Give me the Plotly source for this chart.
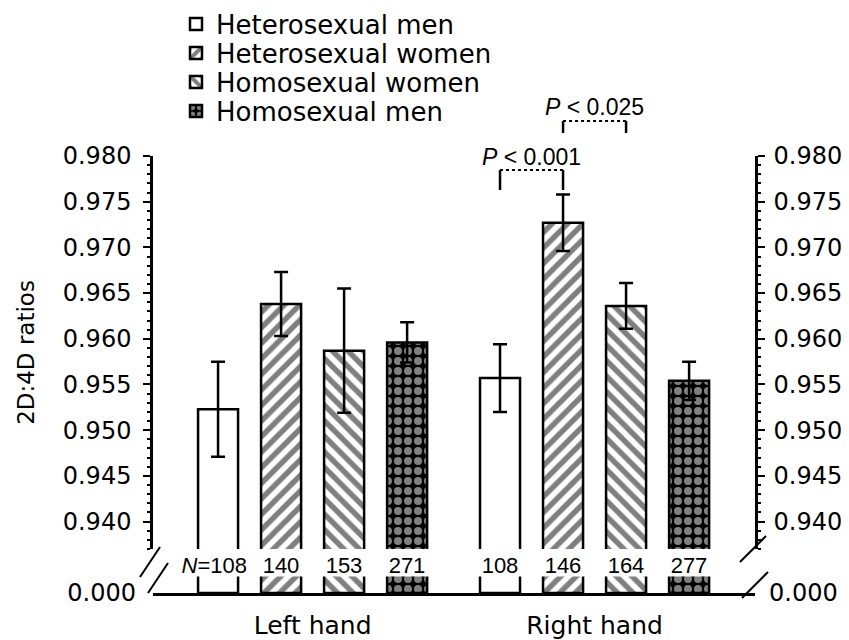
import plotly.graph_objects as go

# ---------------- data ----------------
hands = ["Left hand", "Right hand"]
groups = ["Heterosexual men", "Heterosexual women", "Homosexual women", "Homosexual men"]

het_men_mean = [0.9523, 0.9557]
het_men_err = [0.0052, 0.0037]
het_women_mean = [0.9638, 0.9727]
het_women_err = [0.0035, 0.0031]
homo_women_mean = [0.9587, 0.9636]
homo_women_err = [0.0068, 0.0025]
homo_men_mean = [0.9596, 0.9554]
homo_men_err = [0.0022, 0.0021]

n_left = [108, 140, 153, 271]
n_right = [108, 146, 164, 277]

y_ticks = [0.940, 0.945, 0.950, 0.955, 0.960, 0.965, 0.970, 0.975, 0.980]
p_labels = ["<i>P</i> < 0.001", "<i>P</i> < 0.025"]

means = [het_men_mean, het_women_mean, homo_women_mean, homo_men_mean]
errs = [het_men_err, het_women_err, homo_women_err, homo_men_err]

# ---------------- styles ----------------
FONT = "DejaVu Sans"
BARGAP = 0.106
SLOT = (1 - BARGAP) / 4

styles = [
    dict(color="white", pattern=dict(shape="")),
    dict(color="white", pattern=dict(shape="/", fgcolor="black", bgcolor="white", size=11, solidity=0.5)),
    dict(color="white", pattern=dict(shape="\\", fgcolor="black", bgcolor="white", size=11, solidity=0.5)),
    dict(color="black", pattern=dict(shape=".", fgcolor="white", bgcolor="black", size=10, solidity=0.5)),
]
legend_ids = ["legend", "legend2", "legend3", "legend4"]
legend_rows = [24, 53, 82, 111]  # px centre of each legend row

fig = go.Figure()

# main bars
for g, m, e, st, lg in zip(groups, means, errs, styles, legend_ids):
    fig.add_trace(go.Bar(
        x=hands, y=m, name=g, yaxis="y", legend=lg,
        marker=dict(color=st["color"], pattern=st["pattern"],
                    line=dict(color="black", width=2.5)),
        error_y=dict(type="data", array=e, visible=True, color="black",
                     thickness=2.5, width=7),
        hoverinfo="skip",
    ))

# stub bars below the axis break
for g, m, st in zip(groups, means, styles):
    fig.add_trace(go.Bar(
        x=hands, y=m, name=g, yaxis="y2", showlegend=False,
        marker=dict(color=st["color"], pattern=st["pattern"],
                    line=dict(color="black", width=2.5)),
        hoverinfo="skip",
    ))

# invisible traces so the right-side axes are drawn
fig.add_trace(go.Scatter(x=hands, y=het_women_mean, yaxis="y3", mode="markers",
                         marker=dict(opacity=0), showlegend=False, hoverinfo="skip"))
fig.add_trace(go.Scatter(x=hands, y=[0, 0], yaxis="y4", mode="markers",
                         marker=dict(opacity=0), showlegend=False, hoverinfo="skip"))

# ---------------- layout ----------------
L, R, T, B = 153, 94, 156, 47
W, H = 849, 640
PH = H - T - B  # plot height in px
PW = W - L - R


def py(p):
    return (H - B - p) / PH


def px(p):
    return (p - L) / PW


main_lo = 0.93700
main_dom = [py(549), 1]
stub_dom = [0, py(564)]

tickfont = dict(family=FONT, size=24, color="black")

legends = {}
for lg, row in zip(legend_ids, legend_rows):
    legends[lg] = dict(x=px(176), y=1 - row / H, xref="paper", yref="container",
                       xanchor="left", yanchor="middle",
                       font=dict(family=FONT, size=26, color="black"),
                       bgcolor="rgba(0,0,0,0)", itemwidth=30)

fig.update_layout(
    width=W, height=H,
    margin=dict(l=L, r=R, t=T, b=B, autoexpand=False),
    paper_bgcolor="white", plot_bgcolor="white",
    font=dict(family=FONT, color="black"),
    barmode="group", bargap=BARGAP, bargroupgap=0.365,
    showlegend=True,
    **legends,
    xaxis=dict(type="category", range=[-0.566, 1.569], anchor="y2",
               showline=True, linecolor="black", linewidth=2.5,
               ticks="", tickfont=dict(family=FONT, size=25, color="black"),
               ticklabelstandoff=8, automargin=False,
               showgrid=False, zeroline=False, fixedrange=True),
    yaxis=dict(domain=main_dom, range=[main_lo, 0.980], anchor="x",
               tickvals=y_ticks, tickformat=".3f", ticks="outside", ticklen=7,
               tickwidth=2, tickcolor="black", tickfont=tickfont,
               ticklabelstandoff=7, automargin=False,
               minor=dict(dtick=0.001, ticks="outside", ticklen=3, tickcolor="black", tickwidth=1.5),
               showline=True, linecolor="black", linewidth=2.5,
               showgrid=False, zeroline=False,
               title=dict(text="2D:4D ratios", font=dict(family=FONT, size=23), standoff=22)),
    yaxis2=dict(domain=stub_dom, range=[0, 0.9], anchor="x",
                tickvals=[0], ticktext=["0.000"], ticks="", tickfont=tickfont,
                ticklabelstandoff=16, automargin=False,
                showline=False, showgrid=False, zeroline=False),
    yaxis3=dict(overlaying="y", side="right", anchor="x", range=[main_lo, 0.980],
                tickvals=y_ticks, tickformat=".3f", ticks="outside", ticklen=7,
                tickwidth=2, tickcolor="black", tickfont=tickfont,
                ticklabelstandoff=4, automargin=False,
                minor=dict(dtick=0.001, ticks="outside", ticklen=3, tickcolor="black", tickwidth=1.5),
                showline=True, linecolor="black", linewidth=2.5,
                showgrid=False, zeroline=False),
    yaxis4=dict(overlaying="y2", side="right", anchor="x", range=[0, 0.9],
                tickvals=[0], ticktext=["0.000"], ticks="", tickfont=tickfont,
                ticklabelstandoff=13, automargin=False,
                showline=False, showgrid=False, zeroline=False),
)


def bar_x(group_idx, bar_idx):
    return group_idx + (bar_idx - 1.5) * SLOT


# N labels (white boxes interrupt the bars at the axis break)
nfont = dict(family="Liberation Sans", size=22, color="black")
for gi, ns in enumerate([n_left, n_right]):
    for bi, n in enumerate(ns):
        first = gi == 0 and bi == 0
        fig.add_annotation(x=bar_x(gi, bi), y=py(565), xref="x", yref="paper",
                           text=(f"<i>N</i>={n}" if first else str(n)),
                           showarrow=False, font=nfont,
                           width=(76 if first else 46), height=22,
                           align=("right" if first else "center"),
                           bgcolor="white", borderpad=0,
                           xanchor=("right" if first else "center"),
                           xshift=(30 if first else 0), yanchor="middle")

# significance brackets
brackets = [
    (bar_x(1, 0), bar_x(1, 1), 170, 190, 157, p_labels[0]),
    (bar_x(1, 1), bar_x(1, 2), 121, 133, 107, p_labels[1]),
]
for x0, x1, ytop, yleg, ytxt, lab in brackets:
    fig.add_shape(type="line", xref="x", yref="paper", x0=x0, x1=x1, y0=py(ytop), y1=py(ytop),
                  line=dict(color="black", width=2, dash="dot"))
    for xx in (x0, x1):
        fig.add_shape(type="line", xref="x", yref="paper", x0=xx, x1=xx, y0=py(ytop), y1=py(yleg),
                      line=dict(color="black", width=2.5))
    fig.add_annotation(x=(x0 + x1) / 2, y=py(ytxt), xref="x", yref="paper", text=lab,
                       showarrow=False, font=dict(family="Liberation Sans", size=23, color="black"),
                       xanchor="center", yanchor="middle")

# axis break marks
breaks = [
    ((140, 577), (160, 547)),
    ((148, 593), (168, 563)),
    ((740, 562), (766, 536)),
    ((742, 598), (768, 572)),
]
for (ax0, ay0), (ax1, ay1) in breaks:
    fig.add_shape(type="line", xref="paper", yref="paper",
                  x0=px(ax0), y0=py(ay0), x1=px(ax1), y1=py(ay1),
                  line=dict(color="black", width=2))

fig.write_html("out.html", config={"displayModeBar": False},
               post_script="document.body.style.margin='0px';")
